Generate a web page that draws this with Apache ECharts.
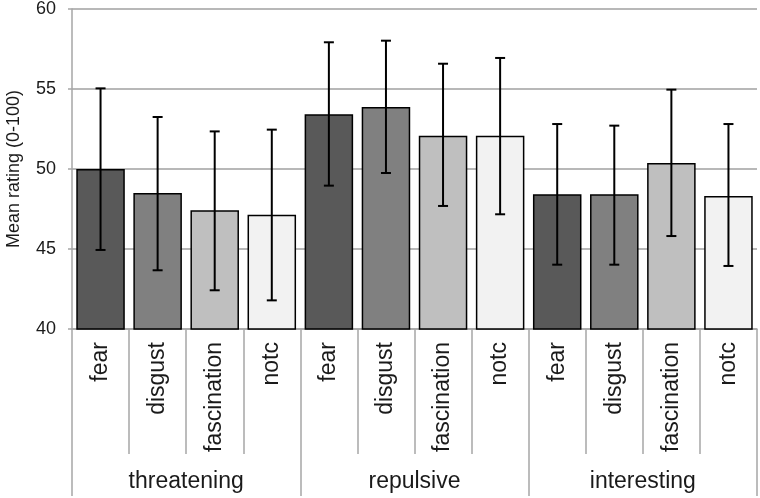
<!DOCTYPE html>
<html>
<head>
<meta charset="utf-8">
<style>
  html, body { margin: 0; padding: 0; background: #ffffff; }
  #chart { width: 760px; height: 498px; }
</style>
<script src="https://cdn.jsdelivr.net/npm/echarts@6/dist/echarts.min.js"></script>
</head>
<body>
<div id="chart"></div>
<script>
// ---- data ----
var groups = ['threatening', 'repulsive', 'interesting'];
var emotions = ['fear', 'disgust', 'fascination', 'notc'];
var emotionColors = ['#595959', '#808080', '#bfbfbf', '#f2f2f2'];
var categories = ['fear', 'disgust', 'fascination', 'notc',
                  'fear', 'disgust', 'fascination', 'notc',
                  'fear', 'disgust', 'fascination', 'notc'];
var meanValues = [50.00, 48.50, 47.42, 47.14,
                  53.42, 53.87, 52.08, 52.08,
                  48.42, 48.42, 50.38, 48.31];
var errLow  = [44.94, 43.67, 42.42, 41.79,
               48.96, 49.75, 47.69, 47.17,
               44.02, 44.02, 45.81, 43.94];
var errHigh = [55.04, 53.25, 52.35, 52.46,
               57.92, 58.02, 56.58, 56.94,
               52.81, 52.71, 54.96, 52.81];
var yTicks = [40, 45, 50, 55, 60];

var font = '"Liberation Sans", Arial, sans-serif';
var gray = '#a6a6a6';

var barData = meanValues.map(function (v, i) {
  return { value: v, itemStyle: { color: emotionColors[i % emotions.length] } };
});
var errData = meanValues.map(function (v, i) {
  return [i, errLow[i], errHigh[i]];
});

var chart = echarts.init(document.getElementById('chart'), null, { renderer: 'canvas' });
chart.setOption({
  animation: false,
  backgroundColor: '#ffffff',
  grid: { left: 72, right: 3, top: 9, bottom: 169, containLabel: false, outerBoundsMode: 'none' },
  xAxis: [
    {
      type: 'category',
      data: categories,
      position: 'bottom',
      axisLine: { show: true, onZero: false, lineStyle: { color: gray, width: 1.5 } },
      axisTick: { show: true, interval: 0, length: 125, lineStyle: { color: gray, width: 1.5 } },
      axisLabel: {
        interval: 0, rotate: 90, margin: 13,
        fontFamily: font, fontSize: 23, color: '#1a1a1a'
      },
      splitLine: { show: false }
    },
    {
      type: 'category',
      data: groups,
      position: 'bottom',
      axisLine: { show: false, onZero: false },
      axisTick: { show: true, interval: 0, length: 167, lineStyle: { color: gray, width: 1.5 } },
      axisLabel: {
        interval: 0, margin: 141,
        fontFamily: font, fontSize: 23, color: '#1a1a1a'
      },
      splitLine: { show: false }
    }
  ],
  yAxis: {
    type: 'value',
    min: yTicks[0],
    max: yTicks[yTicks.length - 1],
    interval: 5,
    name: 'Mean rating (0-100)',
    nameLocation: 'middle',
    nameGap: 49,
    nameTextStyle: { fontFamily: font, fontSize: 18, color: '#1a1a1a' },
    axisLine: { show: true, lineStyle: { color: gray, width: 1.5 } },
    axisTick: { show: true, length: 4, lineStyle: { color: gray, width: 1.5 } },
    axisLabel: { margin: 16, fontFamily: font, fontSize: 18, color: '#1a1a1a' },
    splitLine: { show: true, lineStyle: { color: '#a0a0a0', width: 1.5 } }
  },
  series: [
    {
      type: 'bar',
      xAxisIndex: 0,
      data: barData,
      barCategoryGap: '15%',
      itemStyle: { borderColor: '#000000', borderWidth: 1.5 },
      z: 2
    },
    {
      type: 'custom',
      xAxisIndex: 0,
      data: errData,
      z: 3,
      renderItem: function (params, api) {
        var x = api.value(0);
        var lo = api.coord([x, api.value(1)]);
        var hi = api.coord([x, api.value(2)]);
        var cap = 5;
        var st = { stroke: '#000000', lineWidth: 2 };
        return {
          type: 'group',
          children: [
            { type: 'line', shape: { x1: hi[0], y1: hi[1], x2: lo[0], y2: lo[1] }, style: st },
            { type: 'line', shape: { x1: hi[0] - cap, y1: hi[1], x2: hi[0] + cap, y2: hi[1] }, style: st },
            { type: 'line', shape: { x1: lo[0] - cap, y1: lo[1], x2: lo[0] + cap, y2: lo[1] }, style: st }
          ]
        };
      }
    }
  ]
});
</script>
</body>
</html>
